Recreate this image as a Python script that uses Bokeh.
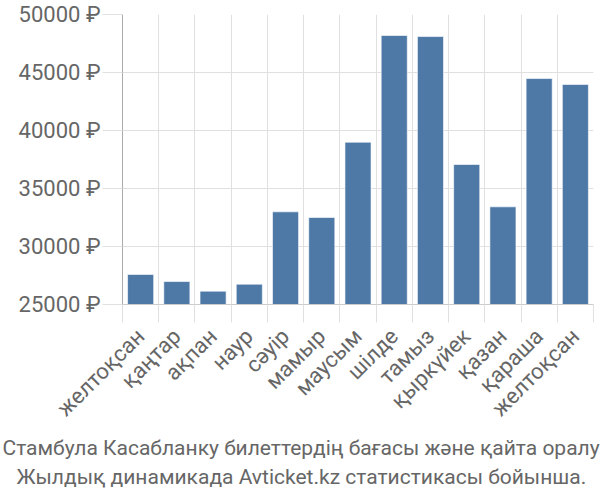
import math
from bokeh.plotting import figure
from bokeh.models import Range1d, FixedTicker, Title
from bokeh.embed import file_html
from bokeh.resources import INLINE

months = ["желтоқсан", "қаңтар", "ақпан", "наур", "сәуір", "мамыр", "маусым",
          "шілде", "тамыз", "қыркүйек", "қазан", "қараша", "желтоқсан"]
prices = [27590, 26980, 26150, 26750, 32990, 32500, 38990,
          48190, 48100, 37070, 33420, 44480, 43970]
y_ticks = [25000, 30000, 35000, 40000, 45000, 50000]
y_tick_labels = ["25000 ₽", "30000 ₽", "35000 ₽", "40000 ₽", "45000 ₽", "50000 ₽"]
title_lines = ["Стамбула Касабланку билеттердің бағасы және қайта оралу",
               "Жылдық динамикада Avticket.kz статистикасы бойынша."]

idx = list(range(len(months)))
bounds = [i - 0.5 for i in range(len(months) + 1)]

W, H = 600, 500
BL, BR = 122, 7
p = figure(width=W, height=H, output_backend="svg", toolbar_location=None,
           x_range=Range1d(-0.5, len(months) - 0.5), y_range=Range1d(25000, 50000),
           min_border_left=BL, min_border_right=BR, min_border_top=14, min_border_bottom=196)
p.outline_line_color = None
p.background_fill_color = "white"

p.vbar(x=idx, top=prices, bottom=25000, width=0.72, fill_color="#4e79a7",
       line_color="white", line_alpha=0.6, line_width=1)

# grids
p.xgrid.ticker = FixedTicker(ticks=bounds)
p.ygrid.ticker = FixedTicker(ticks=y_ticks)
for g in (p.xgrid[0], p.ygrid[0]):
    g.grid_line_color = "#e0e0e0"
    g.grid_line_width = 1

# x axis
xa = p.xaxis[0]
xa.ticker = FixedTicker(ticks=idx, minor_ticks=bounds)
xa.major_label_overrides = {i: m for i, m in zip(idx, months)}
xa.major_label_orientation = math.pi / 4
xa.major_tick_line_color = None
xa.major_tick_out = 0
xa.major_tick_in = 0
xa.minor_tick_out = 18
xa.minor_tick_in = 0
xa.minor_tick_line_color = "#e0e0e0"
xa.axis_line_color = "#cccccc"
xa.major_label_standoff = 10
xa.major_label_text_font = "Roboto"
xa.major_label_text_font_size = "22px"
xa.major_label_text_color = "#666666"

# y axis
ya = p.yaxis[0]
ya.ticker = FixedTicker(ticks=y_ticks)
ya.major_label_overrides = {t: l for t, l in zip(y_ticks, y_tick_labels)}
ya.major_tick_out = 20
ya.major_tick_in = 0
ya.major_tick_line_color = "#e0e0e0"
ya.minor_tick_line_color = None
ya.axis_line_color = "#aaaaaa"
ya.major_label_standoff = 2
ya.major_label_text_font = "Roboto"
ya.major_label_text_font_size = "22px"
ya.major_label_text_color = "#666666"

# titles, left-aligned and shifted so that each sits centred on the canvas
for line, so, off in zip(title_lines, [3, 2], [-120, -106]):
    t = Title(text=line, align="left", text_font="Roboto", offset=off,
              text_font_size="21px", text_font_style="normal", text_color="#666666",
              standoff=so)
    p.add_layout(t, "below")

open("out.html", "w").write(file_html(p, INLINE))
